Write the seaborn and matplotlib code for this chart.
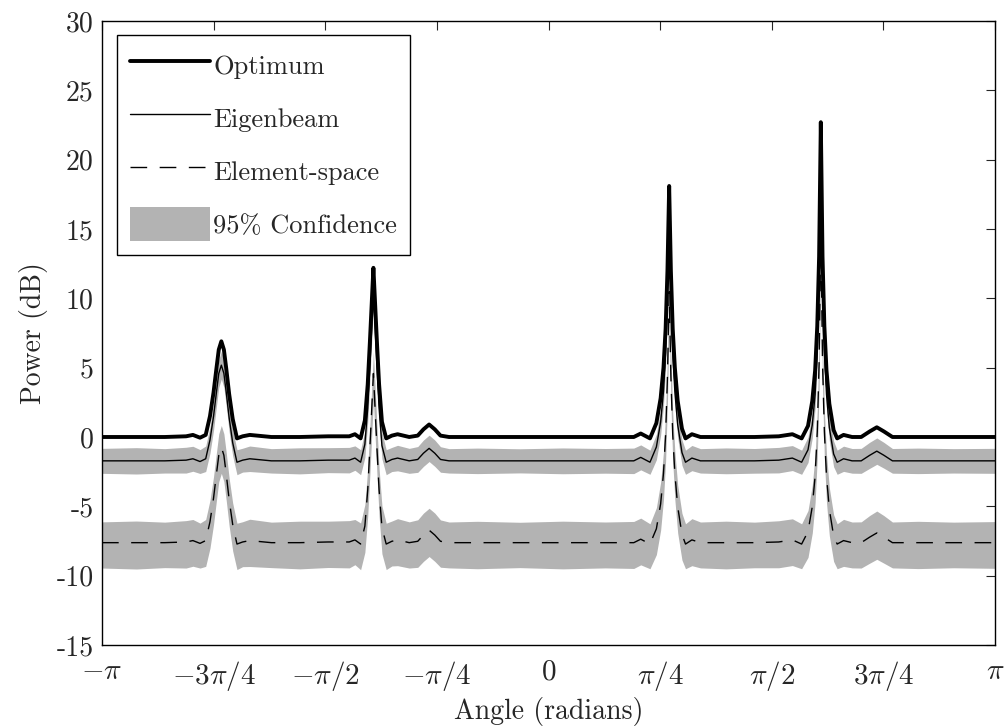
import numpy as np
import pandas as pd
import matplotlib
matplotlib.use("Agg")
import matplotlib.pyplot as plt
import seaborn as sns

# angle samples (radians), denser around the peaks
angle = [-3.1416, -2.90, -2.70, -2.55,
         -2.502, -2.452, -2.412, -2.382, -2.357, -2.337, -2.320, -2.302, -2.284, -2.267, -2.247, -2.222, -2.192, -2.152, -2.102,
         -1.95, -1.75, -1.55,
         -1.402, -1.362, -1.322, -1.292, -1.272, -1.257, -1.244, -1.232, -1.220, -1.207, -1.192, -1.172, -1.142, -1.102, -1.062,
         -0.98, -0.92, -0.88, -0.84, -0.80, -0.76, -0.70,
         -0.50, -0.20, 0.10, 0.40, 0.60,
         0.649, 0.714, 0.759, 0.789, 0.809, 0.824, 0.837, 0.849, 0.861, 0.874, 0.889, 0.909, 0.939, 0.964, 1.009, 1.069,
         1.25, 1.45, 1.62,
         1.716, 1.781, 1.826, 1.856, 1.876, 1.891, 1.904, 1.916, 1.928, 1.941, 1.956, 1.976, 2.006, 2.031, 2.076, 2.136,
         2.20, 2.26, 2.31, 2.36, 2.42,
         2.60, 2.85, 3.1416]

# power in dB
optimum = [0.0, 0.0, 0.0, 0.05,
           0.15, -0.05, 0.15, 1.5, 3.2, 4.9, 6.3, 6.9, 6.3, 4.9, 3.1, 1.3, -0.1, 0.05, 0.15,
           0.0, 0.0, 0.05,
           0.05, 0.2, -0.1, 1.2, 3.8, 6.8, 9.6, 12.2, 9.6, 6.8, 3.8, 1.1, -0.1, 0.1, 0.2,
           0.0, 0.1, 0.55, 0.9, 0.55, 0.1, 0.0,
           0.0, 0.0, 0.0, 0.0, 0.0,
           0.25, -0.1, 1.0, 2.8, 5.0, 7.8, 12.0, 18.1, 12.0, 7.8, 5.0, 2.6, 0.6, -0.1, 0.2, 0.0,
           0.0, 0.0, 0.05,
           0.2, -0.1, 0.8, 2.6, 4.8, 8.0, 13.0, 22.7, 13.0, 8.0, 4.8, 2.4, 0.5, -0.1, 0.15, 0.0,
           0.0, 0.4, 0.7, 0.4, 0.0,
           0.0, 0.0, 0.0]

eigenbeam = [-1.72, -1.72, -1.72, -1.67,
             -1.57, -1.77, -1.57, -0.22, 1.48, 3.18, 4.58, 5.18, 4.58, 3.18, 1.38, -0.42, -1.82, -1.67, -1.57,
             -1.72, -1.72, -1.67,
             -1.67, -1.52, -1.82, -0.52, 2.08, 5.08, 7.88, 10.48, 7.88, 5.08, 2.08, -0.62, -1.82, -1.62, -1.52,
             -1.72, -1.62, -1.17, -0.82, -1.17, -1.62, -1.72,
             -1.72, -1.72, -1.72, -1.72, -1.72,
             -1.47, -1.82, -0.72, 1.08, 3.28, 6.08, 10.28, 16.38, 10.28, 6.08, 3.28, 0.88, -1.12, -1.82, -1.52, -1.72,
             -1.72, -1.72, -1.67,
             -1.52, -1.82, -0.92, 0.88, 3.08, 6.28, 11.28, 20.98, 11.28, 6.28, 3.08, 0.68, -1.22, -1.82, -1.57, -1.72,
             -1.72, -1.32, -1.02, -1.32, -1.72,
             -1.72, -1.72, -1.72]

element = [-7.62, -7.62, -7.62, -7.57,
           -7.47, -7.67, -7.47, -6.12, -4.42, -2.72, -1.32, -0.72, -1.32, -2.72, -4.52, -6.32, -7.72, -7.57, -7.47,
           -7.62, -7.62, -7.57,
           -7.57, -7.42, -7.72, -6.42, -3.82, -0.82, 1.98, 4.58, 1.98, -0.82, -3.82, -6.52, -7.72, -7.52, -7.42,
           -7.62, -7.52, -7.07, -6.72, -7.07, -7.52, -7.62,
           -7.62, -7.62, -7.62, -7.62, -7.62,
           -7.37, -7.72, -6.62, -4.82, -2.62, 0.18, 4.38, 10.48, 4.38, 0.18, -2.62, -5.02, -7.02, -7.72, -7.42, -7.62,
           -7.62, -7.62, -7.57,
           -7.42, -7.72, -6.82, -5.02, -2.82, 0.38, 5.38, 15.08, 5.38, 0.38, -2.82, -5.22, -7.12, -7.72, -7.47, -7.62,
           -7.62, -7.22, -6.92, -7.22, -7.62,
           -7.62, -7.62, -7.62]

# 95% confidence half widths (dB)
eig_spread = [0.90, 0.95, 0.88, 0.93,
              0.90, 0.86, 0.92, 0.95, 1.0, 1.0, 1.0, 1.0, 1.0, 1.0, 1.0, 0.95, 0.90, 0.86, 0.92,
              0.88, 0.94, 0.90,
              0.92, 0.88, 0.90, 0.95, 1.0, 1.0, 1.0, 1.0, 1.0, 1.0, 1.0, 0.95, 0.90, 0.87, 0.92,
              0.90, 0.93, 0.95, 0.95, 0.95, 0.92, 0.88,
              0.92, 0.87, 0.93, 0.89, 0.92,
              0.90, 0.87, 0.92, 0.95, 1.0, 1.0, 1.0, 1.0, 1.0, 1.0, 1.0, 0.95, 0.92, 0.87, 0.91, 0.88,
              0.93, 0.89, 0.92,
              0.90, 0.87, 0.92, 0.95, 1.0, 1.0, 1.0, 1.0, 1.0, 1.0, 1.0, 0.95, 0.92, 0.87, 0.91, 0.89,
              0.90, 0.94, 0.95, 0.93, 0.89,
              0.92, 0.88, 0.90]

elem_up = [1.50, 1.56, 1.48, 1.54,
           1.52, 1.46, 1.52, 1.55, 1.55, 1.55, 1.55, 1.55, 1.55, 1.55, 1.55, 1.55, 1.50, 1.46, 1.54,
           1.48, 1.55, 1.50,
           1.54, 1.47, 1.52, 1.55, 1.55, 1.55, 1.55, 1.55, 1.55, 1.55, 1.55, 1.55, 1.50, 1.46, 1.53,
           1.50, 1.55, 1.58, 1.58, 1.58, 1.54, 1.49,
           1.54, 1.47, 1.55, 1.49, 1.53,
           1.52, 1.46, 1.52, 1.55, 1.55, 1.55, 1.55, 1.55, 1.55, 1.55, 1.55, 1.55, 1.52, 1.46, 1.53, 1.49,
           1.55, 1.48, 1.53,
           1.52, 1.46, 1.52, 1.55, 1.55, 1.55, 1.55, 1.55, 1.55, 1.55, 1.55, 1.55, 1.52, 1.46, 1.53, 1.49,
           1.50, 1.56, 1.58, 1.55, 1.49,
           1.54, 1.48, 1.52]

elem_dn = [1.83, 1.90, 1.80, 1.88,
           1.85, 1.78, 1.86, 1.90, 1.90, 1.90, 1.90, 1.90, 1.90, 1.90, 1.90, 1.90, 1.84, 1.78, 1.87,
           1.80, 1.89, 1.84,
           1.87, 1.79, 1.85, 1.90, 1.90, 1.90, 1.90, 1.90, 1.90, 1.90, 1.90, 1.90, 1.84, 1.78, 1.86,
           1.83, 1.88, 1.90, 1.90, 1.90, 1.87, 1.82,
           1.88, 1.80, 1.89, 1.82, 1.86,
           1.85, 1.78, 1.86, 1.90, 1.90, 1.90, 1.90, 1.90, 1.90, 1.90, 1.90, 1.90, 1.85, 1.78, 1.86, 1.82,
           1.89, 1.81, 1.86,
           1.85, 1.78, 1.86, 1.90, 1.90, 1.90, 1.90, 1.90, 1.90, 1.90, 1.90, 1.90, 1.85, 1.78, 1.86, 1.82,
           1.83, 1.88, 1.90, 1.88, 1.82,
           1.87, 1.81, 1.85]

x_tick_labels = [r"$-\pi$", r"$-3\pi/4$", r"$-\pi/2$", r"$-\pi/4$", r"$0$",
                 r"$\pi/4$", r"$\pi/2$", r"$3\pi/4$", r"$\pi$"]

df = pd.DataFrame({"angle": angle, "optimum": optimum, "eigenbeam": eigenbeam,
                   "element": element, "eig_spread": eig_spread,
                   "elem_up": elem_up, "elem_dn": elem_dn})

# style
sns.set_style("white")
plt.rcParams["font.family"] = ["cmr10", "DejaVu Serif"]
plt.rcParams["mathtext.fontset"] = "cm"
plt.rcParams["axes.unicode_minus"] = False
plt.rcParams["axes.formatter.use_mathtext"] = False

fig = plt.figure(figsize=(10.08, 7.28), dpi=100)
ax = fig.add_axes([0.1012, 0.114, 0.8859, 0.8572])

grey = "#b3b3b3"
ax.fill_between(df.angle, df.eigenbeam - df.eig_spread, df.eigenbeam + df.eig_spread,
                color=grey, linewidth=0, label="95% Confidence")
ax.fill_between(df.angle, df.element - df.elem_dn, df.element + df.elem_up,
                color=grey, linewidth=0)

sns.lineplot(data=df, x="angle", y="optimum", color="k", linewidth=2.8,
             label="Optimum", errorbar=None, sort=False, ax=ax)
sns.lineplot(data=df, x="angle", y="eigenbeam", color="k", linewidth=1.0,
             label="Eigenbeam", errorbar=None, sort=False, ax=ax)
sns.lineplot(data=df, x="angle", y="element", color="k", linewidth=1.0,
             label="Element-space", errorbar=None, sort=False, ax=ax)
ax.lines[-1].set_dashes((12, 9))

ax.set_xlim(-np.pi, np.pi)
ax.set_ylim(-15, 30)
ax.set_xticks(np.pi * np.arange(-4, 5) / 4)
ax.set_xticklabels(x_tick_labels)
ax.set_yticks(np.arange(-15, 31, 5))
ax.tick_params(direction="in", length=6.5, width=0.8, labelsize=20,
               top=True, right=True, pad=6)
ax.tick_params(axis="x", pad=10, labelsize=21)
for s in ax.spines.values():
    s.set_linewidth(1.0)
    s.set_color("k")

ax.set_xlabel("Angle (radians)", fontsize=20, labelpad=3)
ax.set_ylabel("Power (dB)", fontsize=20, labelpad=6)

handles, labels = ax.get_legend_handles_labels()
order = [labels.index(n) for n in ["Optimum", "Eigenbeam", "Element-space", "95% Confidence"]]
leg = ax.legend([handles[i] for i in order], [labels[i] for i in order],
                loc="upper left", fontsize=19, handlelength=3.05, handleheight=1.6,
                handletextpad=0.12, labelspacing=0.72, borderpad=0.5,
                borderaxespad=0.55, fancybox=False, framealpha=1, edgecolor="k")
leg.get_frame().set_linewidth(1.0)

plt.savefig("out.png", dpi=100)
